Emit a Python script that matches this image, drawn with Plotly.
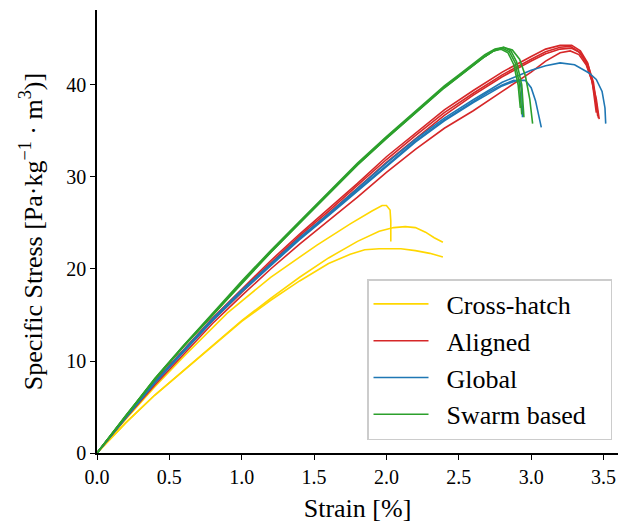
import plotly.graph_objects as go

# ---------------- data ----------------
# Cross-hatch (3 specimens)
ch1_x = [0, 0.2, 0.4, 0.6, 0.9, 1.2, 1.52, 1.61, 1.75, 1.9, 1.97, 2.0, 2.025, 2.03, 2.03]
ch1_y = [0, 3.7, 7.2, 10.5, 15.2, 19.1, 22.6, 23.5, 24.9, 26.3, 26.9, 26.9, 26.4, 25.2, 23.0]
ch2_x = [0, 0.2, 0.4, 0.6, 0.8, 1.0, 1.2, 1.4, 1.6, 1.8, 1.95, 2.05, 2.13, 2.2, 2.27, 2.33, 2.39]
ch2_y = [0, 3.3, 6.3, 9.0, 11.8, 14.4, 16.8, 19.1, 21.2, 23.0, 24.1, 24.5, 24.6, 24.5, 24.0, 23.4, 22.9]
ch3_x = [0, 0.2, 0.4, 0.6, 0.8, 1.0, 1.2, 1.4, 1.6, 1.75, 1.85, 1.95, 2.1, 2.2, 2.3, 2.39]
ch3_y = [0, 3.3, 6.3, 9.0, 11.7, 14.3, 16.6, 18.7, 20.6, 21.6, 22.1, 22.2, 22.2, 22.0, 21.7, 21.3]

# Aligned (4 specimens)
al1_x = [0, 0.2, 0.4, 0.6, 0.8, 1.0, 1.2, 1.4, 1.6, 1.8, 2.0, 2.2, 2.4, 2.6, 2.8, 3.0, 3.1, 3.2, 3.28, 3.34, 3.39, 3.42, 3.44, 3.45]
al1_y = [0, 4.0, 7.8, 11.3, 14.7, 17.8, 20.9, 23.8, 26.5, 29.3, 32.2, 34.8, 37.3, 39.4, 41.4, 43.1, 43.9, 44.3, 44.3, 43.7, 42.4, 40.6, 38.5, 37.0]
al2_x = [0, 0.2, 0.4, 0.6, 0.8, 1.0, 1.2, 1.4, 1.6, 1.8, 2.0, 2.2, 2.4, 2.6, 2.8, 3.0, 3.1, 3.2, 3.27, 3.33, 3.38, 3.42, 3.445, 3.46]
al2_y = [0, 3.9, 7.7, 11.2, 14.6, 17.7, 20.7, 23.6, 26.3, 29.1, 31.9, 34.5, 37.0, 39.1, 41.1, 42.8, 43.6, 44.1, 44.2, 43.6, 42.4, 40.4, 38.4, 36.6]
al3_x = [0, 0.2, 0.4, 0.6, 0.8, 1.0, 1.2, 1.4, 1.6, 1.8, 2.0, 2.2, 2.4, 2.6, 2.8, 3.0, 3.1, 3.2, 3.28, 3.34, 3.39, 3.43, 3.45, 3.465]
al3_y = [0, 3.9, 7.6, 11.1, 14.4, 17.5, 20.5, 23.3, 26.0, 28.8, 31.6, 34.2, 36.7, 38.9, 40.9, 42.6, 43.4, 43.9, 44.0, 43.5, 42.3, 40.3, 38.3, 36.4]
al4_x = [0, 0.2, 0.4, 0.6, 0.8, 1.0, 1.2, 1.4, 1.6, 1.8, 2.0, 2.2, 2.4, 2.6, 2.8, 3.0, 3.1, 3.2, 3.27, 3.33, 3.38, 3.42, 3.45, 3.47]
al4_y = [0, 3.8, 7.4, 10.8, 14.1, 17.1, 20.0, 22.7, 25.2, 27.8, 30.5, 33.0, 35.3, 37.2, 39.3, 41.4, 42.6, 43.5, 43.7, 43.3, 42.2, 40.5, 38.5, 36.3]

# Global (3 specimens)
gl1_x = [0, 0.2, 0.4, 0.6, 0.8, 1.0, 1.2, 1.4, 1.6, 1.8, 2.0, 2.2, 2.4, 2.6, 2.7, 2.8, 2.88, 2.92, 2.935, 2.94]
gl1_y = [0, 3.9, 7.7, 11.1, 14.5, 17.6, 20.5, 23.3, 25.9, 28.6, 31.3, 33.9, 36.2, 38.2, 39.2, 40.0, 40.5, 40.4, 39.5, 36.5]
gl2_x = [0, 0.2, 0.4, 0.6, 0.8, 1.0, 1.2, 1.4, 1.6, 1.8, 2.0, 2.2, 2.4, 2.6, 2.8, 2.9, 2.96, 3.0, 3.03, 3.05, 3.07]
gl2_y = [0, 3.9, 7.6, 11.0, 14.4, 17.5, 20.4, 23.2, 25.8, 28.5, 31.2, 33.8, 36.1, 38.1, 39.9, 40.5, 40.5, 39.7, 38.3, 36.8, 35.4]
gl3_x = [0, 0.2, 0.4, 0.6, 0.8, 1.0, 1.2, 1.4, 1.6, 1.8, 2.0, 2.2, 2.4, 2.6, 2.8, 3.0, 3.1, 3.2, 3.3, 3.4, 3.45, 3.49, 3.51, 3.515]
gl3_y = [0, 3.9, 7.7, 11.2, 14.6, 17.7, 20.6, 23.4, 26.0, 28.8, 31.5, 34.1, 36.4, 38.4, 40.3, 41.6, 42.1, 42.4, 42.2, 41.3, 40.6, 39.3, 37.5, 35.8]

# Swarm based (4 specimens)
sw1_x = [0, 0.2, 0.4, 0.6, 0.8, 1.0, 1.2, 1.4, 1.6, 1.8, 2.0, 2.2, 2.4, 2.5, 2.6, 2.68, 2.74, 2.79, 2.84, 2.88, 2.91, 2.925]
sw1_y = [0, 4.1, 8.1, 11.7, 15.1, 18.6, 21.9, 25.1, 28.3, 31.4, 34.3, 37.1, 39.8, 41.0, 42.2, 43.1, 43.7, 43.9, 43.5, 42.2, 40.0, 37.5]
sw2_x = [0, 0.2, 0.4, 0.6, 0.8, 1.0, 1.2, 1.4, 1.6, 1.8, 2.0, 2.2, 2.4, 2.5, 2.6, 2.68, 2.74, 2.8, 2.85, 2.89, 2.92, 2.935]
sw2_y = [0, 4.1, 8.0, 11.6, 15.0, 18.5, 21.8, 25.0, 28.2, 31.3, 34.2, 37.0, 39.7, 40.9, 42.1, 43.1, 43.7, 44.0, 43.6, 42.4, 40.0, 36.8]
sw3_x = [0, 0.2, 0.4, 0.6, 0.8, 1.0, 1.2, 1.4, 1.6, 1.8, 2.0, 2.2, 2.4, 2.5, 2.6, 2.68, 2.75, 2.81, 2.86, 2.9, 2.935, 2.95]
sw3_y = [0, 4.1, 8.1, 11.7, 15.2, 18.7, 22.0, 25.2, 28.4, 31.5, 34.4, 37.2, 39.9, 41.1, 42.3, 43.3, 43.9, 44.1, 43.7, 42.5, 40.0, 36.5]
sw4_x = [0, 0.2, 0.4, 0.6, 0.8, 1.0, 1.2, 1.4, 1.6, 1.8, 2.0, 2.2, 2.4, 2.5, 2.6, 2.68, 2.75, 2.81, 2.87, 2.92, 2.96, 2.99, 3.01]
sw4_y = [0, 4.0, 8.0, 11.6, 15.0, 18.5, 21.8, 25.0, 28.2, 31.3, 34.2, 37.0, 39.7, 40.9, 42.1, 43.1, 43.8, 44.1, 43.8, 42.8, 41.0, 38.5, 35.8]

groups = ["Cross-hatch", "Aligned", "Global", "Swarm based"]
colors = ["#FFD700", "#d62728", "#1f77b4", "#2ca02c"]
series = [
    [(ch1_x, ch1_y), (ch2_x, ch2_y), (ch3_x, ch3_y)],
    [(al1_x, al1_y), (al2_x, al2_y), (al3_x, al3_y), (al4_x, al4_y)],
    [(gl1_x, gl1_y), (gl2_x, gl2_y), (gl3_x, gl3_y)],
    [(sw1_x, sw1_y), (sw2_x, sw2_y), (sw3_x, sw3_y), (sw4_x, sw4_y)],
]

x_ticks = [0.0, 0.5, 1.0, 1.5, 2.0, 2.5, 3.0, 3.5]
y_ticks = [0, 10, 20, 30, 40]

FONT = "Liberation Serif"
NB = "\u00a0"

fig = go.Figure()
for name, color, curves in zip(groups, colors, series):
    label = NB * 2 + name + (NB * 3 if name == "Swarm based" else "")
    for i, (xs, ys) in enumerate(curves):
        fig.add_trace(go.Scatter(
            x=xs, y=ys, mode="lines", name=label,
            line=dict(color=color, width=1.6),
            legendgroup=name, showlegend=(i == 0),
        ))

axis_common = dict(
    showline=True, linecolor="black", linewidth=1.5,
    ticks="outside", ticklen=5, tickwidth=1.2, tickcolor="black",
    showgrid=False, zeroline=False, mirror=False, automargin=False,
    tickfont=dict(family=FONT, size=20, color="black"),
)

# page body has an 8px default margin, so the figure is drawn 8px in
fig.update_layout(
    width=622, height=519,
    margin=dict(l=89, r=12, t=2, b=74, autoexpand=False),
    plot_bgcolor="white", paper_bgcolor="white",
    font=dict(family=FONT, color="black"),
    xaxis=dict(range=[0, 3.6], tickvals=x_ticks, ticktext=[f"{v:.1f}" for v in x_ticks],
               title=dict(text="Strain [%]", font=dict(family=FONT, size=26), standoff=12),
               **axis_common),
    yaxis=dict(range=[0, 48.15], tickvals=y_ticks,
               title=dict(text="Specific Stress [Pa·kg<sup>−1</sup> · m<sup>3</sup>)]",
                          font=dict(family=FONT, size=26), standoff=16),
               **axis_common),
    legend=dict(
        x=0.9885, y=0.0293, xanchor="right", yanchor="bottom",
        bgcolor="rgba(255,255,255,0.8)", bordercolor="#cccccc", borderwidth=1.5,
        font=dict(family=FONT, size=26, color="black"),
        tracegroupgap=5, traceorder="normal", itemwidth=55,
    ),
)

fig.write_html("out.html")
